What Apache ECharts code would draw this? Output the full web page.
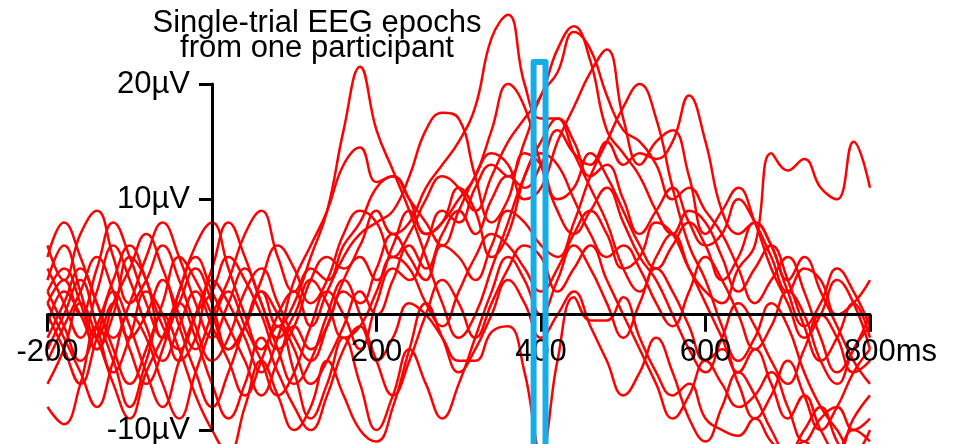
<!DOCTYPE html>
<html>
<head>
<meta charset="utf-8">
<script src="https://cdn.jsdelivr.net/npm/echarts@6/dist/echarts.min.js"></script>
<style>
  html, body { margin: 0; padding: 0; background: #fff; }
  #chart { width: 963px; height: 444px; }
</style>
</head>
<body>
<div id="chart"></div>
<script>
// Sample times (ms) for every epoch
const times = [-200,-180,-160,-140,-120,-100,-80,-60,-40,-20,0,20,40,60,80,100,120,140,160,180,200,
  220,240,260,280,300,320,340,360,380,400,420,440,460,480,500,520,540,560,580,600,
  620,640,660,680,700,720,740,760,780,800];

// Single-trial amplitudes (µV), one array per epoch
const trial01 = [2,4,1,-3,0,5,3,-2,1,4,1,-3,-1,2,-1,1,5,9,16,21.5,16,12.5,9,5,1,-2,0,4,8,12,14,13,10,7,5,6,4,1,-1,2,5,3,0,-3,-1,2,0,-4,-6,-3,-1];
const trial02 = [-3,0,3,-1,-5,-2,2,0,-4,-2,3,1,-2,-5,-2,3,6,9,13,14.5,11.5,12,10,7,8,11,9,5,7,12,15,17,14,11,8,4,2,5,7,4,1,-2,-5,-3,-6,-9,-7,-10,-12,-9,-7];
const trial03 = [4,1,-2,2,6,3,-1,-4,-1,2,-1,-4,-7,-4,0,2,-1,2,5,7,8,9,12,16,17.5,17,12,8,10,14,13,10,11,14,12,9,6,4,6,8,6,3,5,8,6,2,-1,1,4,2,-1];
const trial04 = [0,-3,-6,-2,2,-1,-5,-8,-4,0,2,5,3,0,-3,-1,3,5,4,6,9,7,8,11,13,15,18,24,26,20,17,17,15,12,13,10,7,9,11,8,6,7,10,8,5,2,4,3,0,1,3];
const trial05 = [6,3,7,9,5,1,3,6,3,-1,-4,-2,2,4,1,-2,-4,-1,3,5,3,6,9,7,8,10,12,16,20,18,13,9,7,9,11,8,5,3,0,-3,-5,-2,1,-1,-4,-6,-3,0,-2,-5,-4];
const trial06 = [-2,1,4,1,-3,-6,-3,1,5,3,0,-3,-1,3,6,4,1,3,7,9,8,5,7,10,12,11,9,12,15,17,19,23,25,22,16,14,12,9,7,9,8,5,2,4,6,3,-1,-4,-2,1,-2];
const trial07 = [1,-2,-5,-8,-4,0,-2,-6,-9,-5,-1,2,-1,-4,-7,-5,-1,2,0,-3,1,4,3,6,9,8,11,13,12,15,19,21,24.5,23,19,16,15,13,10,11,9,7,4,1,3,5,2,-2,-5,-3,0];
const trial08 = [-1,2,0,-3,1,4,7,4,0,-3,0,3,7,9,5,2,4,3,6,8,11,12,10,8,6,9,12,14,13,10,11,15,18,21,23,17,13,15,16,12,7,9,11,8,4,1,-2,0,3,1,-3];
const trial09 = [3,6,2,-2,1,-3,-6,-3,2,5,2,-1,-4,-7,-4,-1,-3,-1,2,1,4,7,5,3,6,5,3,6,9,8,6,5,8,12,15,18,20,17,11,6,3,-1,-4,-2,1,-1,-5,-8,-10,-12,-10];
const trial10 = [-4,-1,2,5,2,-2,0,3,-1,-5,-8,-5,-1,2,0,-3,-6,-4,-1,2,0,3,6,4,7,9,7,10,12,11,13,16,14,13,15,13,14,13.5,15,19,15,9,7,8,6,3,5,2,-1,-4,-6];
const trial11 = [2,-1,-4,-1,3,6,3,-1,-3,0,4,8,5,1,-2,0,3,1,-2,-1,2,5,4,1,-1,2,5,7,6,4,2,4,7,9,7,4,5,8,7,4,2,1,4,6,14,12.5,13.5,11,10,15,11];
const trial12 = [-6,-3,1,-2,-6,-9,-5,-2,1,-2,-6,-9,-6,-2,-5,-8,-10,-7,-3,-1,-4,-2,1,0,-2,-4,-4,-1.5,-1,-5,-12,-4,1.5,-0.5,-0.5,1.5,-2,-5,-7,-6,-9,-10,-10.5,-9,-11,-12,-11,-13,-12,-10,-11];
const trial13 = [5,8,5,1,-2,1,5,8,5,1,-2,1,4,1,-3,-6,-4,0,3,0,-4,-7,-4,0,3,1,-2,1,4,6,5,2,4,6,3,0,-3,-6,-9,-7,-4,-6,-8,-7,-5,-8,-11,-9,-8,-10,-9];
const trial14 = [-8,-9.5,-6,-1,-4,-8,-4,0,-3,-7,-10,-12,-8,-4,-7,-10,-8,-4,-7,-10,-11,-8,-3,1,-2,-5,-3,0,3,1,-2,0,2,-1,-4,-7,-5,-2,-5,-9,-11,-8,-5,-7,-10,-12,-10,-8,-11,-13,-12];
const trial15 = [1,3,0,4,8,5,1,-2,2,6,8,4,0,-3,-1,-5,-9,-6,-2,-6,-10,-7,-3,-6,-9,-6,-2,2,5,3,0,3,6,4,1,-2,1,4,2,-1,-4,-3,-6,-9,-7,-4,-7,-10,-8,-5,-3];

const trials = [trial01, trial02, trial03, trial04, trial05, trial06, trial07, trial08,
  trial09, trial10, trial11, trial12, trial13, trial14, trial15];

// Highlighted analysis window (ms) and its upper edge (µV)
const windowStart = 391;
const windowEnd = 405.5;
const windowTop = 21.9;
const windowBottom = -15;

// Axis ticks
const xTicks = { min: -200, max: 800, step: 200 };
const yTicks = { min: -10, max: 20, step: 10 };

const FONT = '"Liberation Sans", Arial, Helvetica, sans-serif';

// Plot box in pixels
const W = 963, H = 444;
const gridBox = { left: 47.5, right: 93, top: 84, bottom: 14 };
const plotW = W - gridBox.left - gridBox.right;
const plotH = H - gridBox.top - gridBox.bottom;
// Shift the axes so they cross at (0 ms, 0 µV)
const yAxisShift = -plotW * (0 - xTicks.min) / (xTicks.max - xTicks.min);
const xAxisShift = -plotH * (0 - yTicks.min) / (yTicks.max - yTicks.min);

const series = trials.map((vals, k) => ({
  name: 'trial ' + (k + 1),
  type: 'line',
  data: times.map((t, i) => [t, vals[i]]),
  showSymbol: false,
  symbol: 'none',
  smooth: 0.45,
  clip: false,
  silent: true,
  z: 3,
  lineStyle: { color: '#ff0000', width: 2.5 }
}));

series.push({
  name: 'window',
  type: 'line',
  data: [[windowStart, windowBottom], [windowStart, windowTop], [windowEnd, windowTop], [windowEnd, windowBottom]],
  symbol: 'none',
  clip: false,
  silent: true,
  z: 30,
  lineStyle: { color: '#16aeea', width: 6, join: 'round', cap: 'butt' }
});

const chart = echarts.init(document.getElementById('chart'), null, { renderer: 'canvas' });
chart.setOption({
  animation: false,
  backgroundColor: '#ffffff',
  title: {
    text: 'Single-trial EEG epochs\nfrom one participant',
    left: 312,
    top: 6,
    textAlign: 'center',
    textStyle: { fontFamily: FONT, fontSize: 31, fontWeight: 'normal', color: '#000', lineHeight: 25 }
  },
  grid: Object.assign({ containLabel: false, outerBoundsMode: 'none' }, gridBox),
  xAxis: {
    type: 'value',
    position: 'bottom',
    offset: xAxisShift,
    min: xTicks.min, max: xTicks.max, interval: xTicks.step,
    z: 10,
    splitLine: { show: false },
    axisLine: { onZero: false, lineStyle: { color: '#000', width: 3 } },
    axisTick: { show: true, length: 17, lineStyle: { color: '#000', width: 3 } },
    axisLabel: {
      margin: 22,
      fontFamily: FONT, fontSize: 31, color: '#000',
      formatter: v => v === 0 ? '' : (v === xTicks.max ? '{p|}' + v + 'ms' : String(v)),
      rich: { p: { width: 41, fontSize: 31 } }
    }
  },
  yAxis: {
    type: 'value',
    position: 'left',
    offset: yAxisShift,
    min: yTicks.min, max: yTicks.max, interval: yTicks.step,
    z: 10,
    splitLine: { show: false },
    axisLine: { onZero: false, lineStyle: { color: '#000', width: 3 } },
    axisTick: { show: true, length: 13, lineStyle: { color: '#000', width: 3 } },
    axisLabel: {
      margin: 22,
      fontFamily: FONT, fontSize: 31, color: '#000',
      formatter: v => v === 0 ? '' : v + 'µV'
    }
  },
  series: series
});
</script>
</body>
</html>
